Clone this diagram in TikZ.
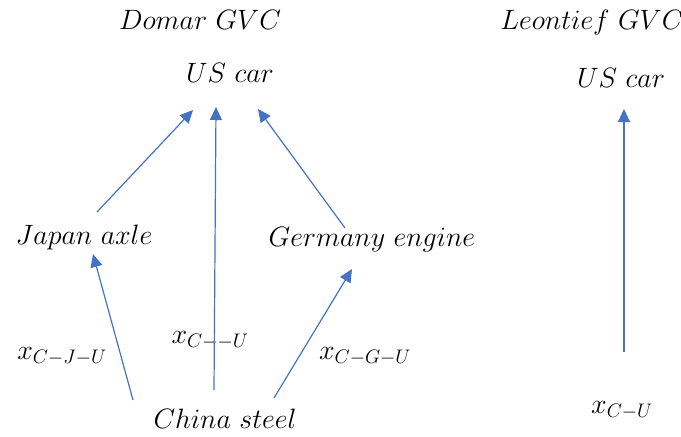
\RequirePackage{fix-cm}
\documentclass[tikz,border=0pt]{standalone}
\usetikzlibrary{arrows.meta}
\definecolor{arrowblue}{HTML}{4472C4}
\begin{document}
\begin{tikzpicture}[x=1pt,y=-1pt,
  lbl/.style={inner sep=0pt,font=\fontsize{28}{32}\selectfont},
  conn/.style={draw=arrowblue,line width=1.2pt,-{Triangle[length=13pt,width=12pt]}}]
\useasboundingbox (0,0) rectangle (681,437);
\node[lbl] (domar) at (200,20) {$Domar\ GVC$};
\node[lbl] (leon) at (592,22) {$Leontief\ GVC$};
\node[lbl] (uscar) at (230,73) {$US\ car$};
\node[lbl] (uscar2) at (621,78) {$US\ car$};
\node[lbl] (japan) at (84,237) {$Japan\ axle$};
\node[lbl] (germany) at (372,240) {$Germany\ engine$};
\node[lbl] (china) at (225,419) {$China\ steel$};
\node[lbl] (xcju) at (62,356) {$x_{\scriptstyle C-J-U}$};
\node[lbl] (xcu0) at (210,340) {$x_{\scriptstyle C--U}$};
\node[lbl] (xcgu) at (365,356) {$x_{\scriptstyle C-G-U}$};
\node[lbl] (xcu) at (622,410) {$x_{\scriptstyle C-U}$};
% endpoints
\coordinate (jaTop) at (97,212);
\coordinate (usL) at (193,110);
\coordinate (chMid) at (214,390);
\coordinate (usM) at (216,107);
\coordinate (geTop) at (345,228);
\coordinate (usR) at (258,109);
\coordinate (chL) at (133,400);
\coordinate (jaBot) at (93,254);
\coordinate (chR) at (274,398);
\coordinate (geBot) at (352,269);
\coordinate (rBot) at (624,352);
\coordinate (rTop) at (624,109);
\draw[conn] (jaTop) -- (usL);
\draw[conn] (chMid) -- (usM);
\draw[conn] (geTop) -- (usR);
\draw[conn] (chL) -- (jaBot);
\draw[conn] (chR) -- (geBot);
\draw[conn] (rBot) -- (rTop);
\end{tikzpicture}
\end{document}
